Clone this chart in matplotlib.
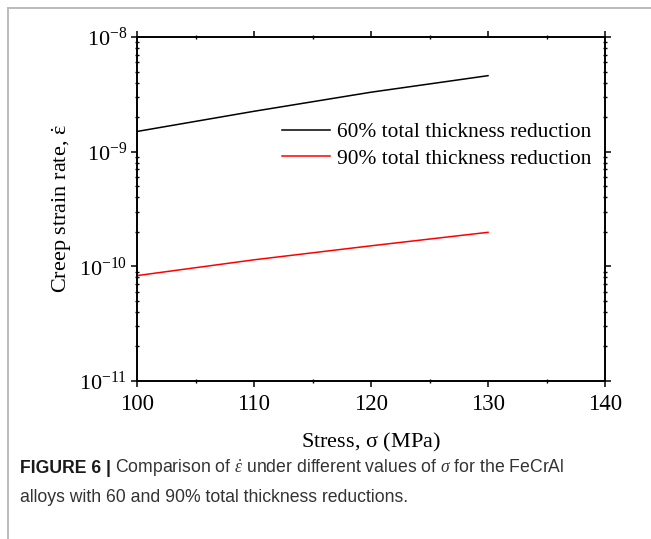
import matplotlib
matplotlib.use("Agg")
import matplotlib.pyplot as plt
from matplotlib.lines import Line2D
from matplotlib.ticker import LogLocator, LogFormatterMathtext, MultipleLocator, NullFormatter

plt.rcParams['font.family'] = ['Liberation Serif', 'DejaVu Serif']
plt.rcParams['mathtext.fontset'] = 'custom'
plt.rcParams['mathtext.rm'] = 'Liberation Serif'
plt.rcParams['mathtext.it'] = 'Liberation Serif:italic'
plt.rcParams['mathtext.bf'] = 'Liberation Serif:bold'
plt.rcParams['axes.unicode_minus'] = False

stress = [100, 110, 120, 130]
rate_60 = [1.5e-9, 2.25e-9, 3.3e-9, 4.6e-9]
rate_90 = [8.3e-11, 1.14e-10, 1.51e-10, 1.98e-10]
labels = ['60% total thickness reduction', '90% total thickness reduction']
x_ticks = [100, 110, 120, 130, 140]
caption_bold = 'FIGURE 6 |'
caption_line1 = r'Comparison of $\dot{\varepsilon}$ under different values of $\sigma$ for the FeCrAl'
caption_line2 = 'alloys with 60 and 90% total thickness reductions.'

W, H = 651, 539
fig = plt.figure(figsize=(W / 100, H / 100), dpi=100)
ax = fig.add_axes([137 / W, 1 - 381 / H, (605 - 137) / W, (381 - 37) / H])

ax.plot(stress, rate_60, color='black', lw=1.1, label=labels[0])
ax.plot(stress, rate_90, color='red', lw=1.1, label=labels[1])

ax.set_yscale('log')
ax.set_xlim(100, 140)
ax.set_ylim(1e-11, 1e-8)
ax.set_xticks(x_ticks)
ax.xaxis.set_minor_locator(MultipleLocator(5))
ax.yaxis.set_major_locator(LogLocator(base=10, numticks=10))
ax.yaxis.set_minor_locator(LogLocator(base=10, subs=range(2, 10), numticks=100))
ax.yaxis.set_major_formatter(LogFormatterMathtext())
ax.yaxis.set_minor_formatter(NullFormatter())

for s in ax.spines.values():
    s.set_linewidth(1.4)

ax.tick_params(axis='both', which='major', labelsize=16, width=1.1, length=4,
               direction='out', top=True, right=True, pad=3)
ax.tick_params(axis='x', which='major', labelsize=16.5, pad=5)
ax.tick_params(axis='both', which='minor', width=1.0, length=3,
               direction='inout', top=True, right=True)

ax.set_xlabel(r'Stress, $\mathrm{\sigma}$ (MPa)', fontsize=16, labelpad=12)
ax.set_ylabel(r'Creep strain rate, $\dot{\mathrm{\varepsilon}}$', fontsize=16, labelpad=4)

ax.legend(loc='upper left', bbox_to_anchor=(0.31, 0.752), frameon=False,
          fontsize=15.4, handlelength=2.25, handletextpad=0.3, labelspacing=0.3,
          borderpad=0, borderaxespad=0)

# caption
cap_font = ['Liberation Sans', 'DejaVu Sans']
t1 = fig.text(20 / W, 1 - 473 / H, caption_bold, fontsize=12.7, fontweight='bold',
              family=cap_font, color='#1a1a1a', va='baseline')
fig.canvas.draw()
bb = t1.get_window_extent()
fig.text((bb.x1 + 4) / W, 1 - 473 / H, caption_line1, fontsize=12.7,
         family=cap_font, color='#333333', va='baseline')
fig.text(20 / W, 1 - 502 / H, caption_line2, fontsize=12.7,
         family=cap_font, color='#333333', va='baseline')

# outer frame lines
fig.add_artist(Line2D([7.5 / W, 7.5 / W], [0, 1 - 7.5 / H], color='#bbbbbb', lw=1.4,
                      transform=fig.transFigure))
fig.add_artist(Line2D([7.5 / W, 1], [1 - 7.5 / H, 1 - 7.5 / H], color='#bbbbbb', lw=1.4,
                      transform=fig.transFigure))

fig.savefig('out.png', dpi=100)
